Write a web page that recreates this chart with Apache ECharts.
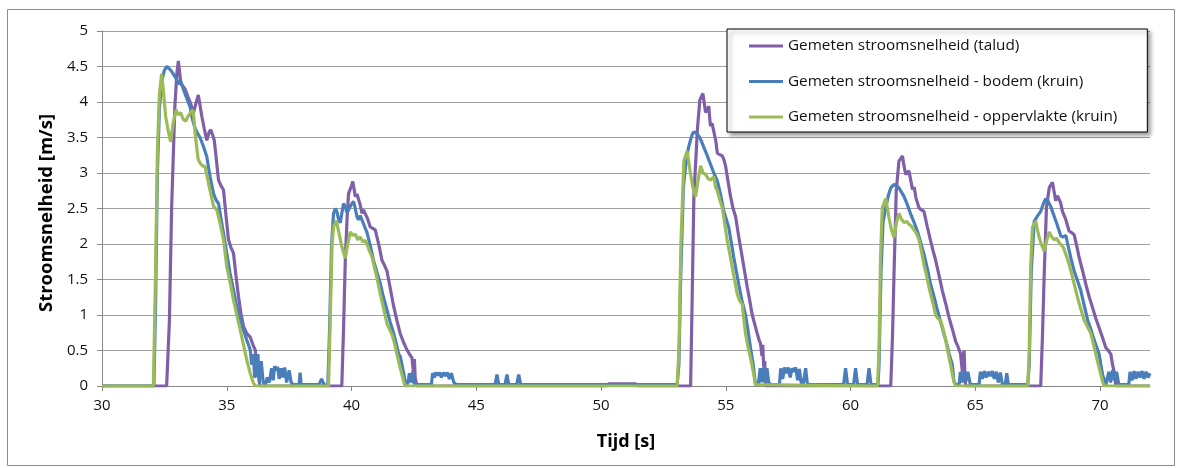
<!DOCTYPE html>
<html>
<head>
<meta charset="utf-8">
<title>Gemeten stroomsnelheid</title>
<script src="https://cdn.jsdelivr.net/npm/echarts@6/dist/echarts.min.js"></script>
<style>
  html, body { margin: 0; padding: 0; background: #fff; }
  #chart { width: 1179px; height: 468px; }
</style>
</head>
<body>
<div id="chart"></div>
<script>
// [tijd (s), snelheid (m/s)]
const talud = [
  [30, 0], [32.59, 0], [32.7, 0.9], [32.79, 2.5], [32.92, 3.94], [33.0, 4.4], [33.06, 4.58], [33.1, 4.45], [33.16, 4.26],
  [33.25, 4.22], [33.33, 4.18], [33.45, 4.07], [33.55, 3.98], [33.66, 3.84], [33.78, 4.0], [33.86, 4.1], [33.93, 3.95],
  [34.0, 3.8], [34.1, 3.62], [34.2, 3.46], [34.3, 3.58], [34.36, 3.61], [34.45, 3.52], [34.5, 3.46], [34.58, 3.2],
  [34.67, 2.9], [34.77, 2.82], [34.87, 2.76], [34.97, 2.4], [35.07, 2.06], [35.17, 1.95], [35.27, 1.87], [35.37, 1.55],
  [35.47, 1.26], [35.57, 1.02], [35.67, 0.84], [35.8, 0.74], [35.94, 0.69], [36.05, 0.58], [36.14, 0.51], [36.2, 0.3],
  [36.27, 0.18], [36.33, 0],
  [39.61, 0], [39.68, 0.8], [39.75, 1.77], [39.82, 2.35], [39.88, 2.71], [40.0, 2.82], [40.05, 2.88], [40.1, 2.78],
  [40.15, 2.67], [40.22, 2.7], [40.28, 2.72], [40.35, 2.55], [40.42, 2.43], [40.48, 2.48], [40.55, 2.5], [40.65, 2.35],
  [40.75, 2.24], [40.85, 2.22], [40.95, 2.2], [41.1, 1.98], [41.22, 1.77], [41.32, 1.7], [41.42, 1.62], [41.55, 1.38],
  [41.69, 1.12], [41.82, 0.92], [41.95, 0.74], [42.08, 0.62], [42.22, 0.51], [42.32, 0.45], [42.42, 0.4], [42.48, 0.2],
  [42.52, 0.38], [42.55, 0.12], [42.62, 0],
  [50.2, 0], [50.3, 0.03], [51.4, 0.03], [51.5, 0],
  [53.59, 0], [53.65, 1.2], [53.72, 2.67], [53.8, 3.2], [53.86, 3.61], [53.96, 4.03], [54.03, 4.08], [54.08, 4.12],
  [54.13, 4.0], [54.19, 3.85], [54.26, 3.9], [54.32, 3.94], [54.36, 3.75], [54.39, 3.66], [54.45, 3.7], [54.52, 3.68],
  [54.6, 3.45], [54.66, 3.28], [54.76, 3.26], [54.86, 3.24], [54.93, 3.18], [54.99, 3.1], [55.09, 2.88], [55.19, 2.67],
  [55.29, 2.5], [55.39, 2.39], [55.52, 2.1], [55.66, 1.81], [55.76, 1.6], [55.86, 1.39], [55.96, 1.2], [56.06, 1.0],
  [56.16, 0.87], [56.26, 0.74], [56.33, 0.65], [56.39, 0.6], [56.45, 0.42], [56.48, 0.58], [56.52, 0.26], [56.56, 0.35],
  [56.6, 0],
  [61.61, 0], [61.68, 0.7], [61.74, 1.57], [61.83, 2.75], [61.94, 3.17], [62.0, 3.2], [62.08, 3.24], [62.14, 3.1],
  [62.21, 2.98], [62.28, 3.0], [62.34, 3.03], [62.41, 2.9], [62.48, 2.77], [62.55, 2.8], [62.62, 2.65], [62.74, 2.51],
  [62.84, 2.48], [62.94, 2.46], [63.07, 2.25], [63.21, 2.04], [63.31, 1.9], [63.41, 1.77], [63.55, 1.55], [63.68, 1.34],
  [63.82, 1.15], [63.95, 0.96], [64.08, 0.8], [64.21, 0.63], [64.31, 0.55], [64.41, 0.45], [64.45, 0.3], [64.48, 0.2],
  [64.52, 0.45], [64.55, 0.5], [64.58, 0.2], [64.61, 0],
  [67.62, 0], [67.69, 0.7], [67.76, 1.57], [67.85, 2.51], [67.96, 2.79], [68.02, 2.83], [68.09, 2.87], [68.15, 2.75],
  [68.22, 2.61], [68.29, 2.68], [68.36, 2.7], [68.42, 2.58], [68.49, 2.46], [68.56, 2.48], [68.62, 2.35], [68.76, 2.18],
  [68.86, 2.16], [68.96, 2.13], [69.06, 1.98], [69.16, 1.81], [69.3, 1.62], [69.43, 1.43], [69.56, 1.26], [69.7, 1.1],
  [69.83, 0.95], [69.96, 0.82], [70.1, 0.68], [70.23, 0.54], [70.33, 0.5], [70.43, 0.45], [70.5, 0.3], [70.56, 0.2],
  [70.6, 0.1], [70.63, 0], [72, 0]
];

const bodem = [
  [30, 0], [32.08, 0], [32.15, 1.2], [32.22, 3.0], [32.3, 3.9], [32.4, 4.3], [32.5, 4.45], [32.6, 4.5], [32.66, 4.51],
  [32.75, 4.45], [32.85, 4.4], [33.0, 4.31], [33.1, 4.25], [33.15, 4.3], [33.27, 4.17], [33.4, 4.05], [33.53, 3.93],
  [33.63, 3.75], [33.73, 3.63], [33.83, 3.56], [33.93, 3.5], [34.06, 3.38], [34.2, 3.23], [34.33, 2.95], [34.47, 2.71],
  [34.57, 2.62], [34.67, 2.57], [34.77, 2.35], [34.87, 2.15], [35.0, 1.87], [35.13, 1.59], [35.27, 1.35], [35.4, 1.12],
  [35.53, 0.95], [35.67, 0.79], [35.8, 0.65], [35.94, 0.51], [36.0, 0.3], [36.06, 0.45], [36.12, 0.12], [36.2, 0.17],
  [36.25, 0.45], [36.3, 0.05], [36.38, 0.35], [36.46, 0.05], [36.55, 0.02], [36.62, 0.12], [36.7, 0.05], [36.8, 0.25],
  [36.86, 0.08], [36.92, 0.28], [36.98, 0.22], [37.04, 0.27], [37.1, 0.1], [37.18, 0.25], [37.25, 0.12], [37.32, 0.26],
  [37.4, 0.05], [37.5, 0.22], [37.58, 0.05], [37.66, 0.02], [37.9, 0.02], [37.94, 0.19], [37.98, 0.02], [38.7, 0.02],
  [38.8, 0.1], [38.9, 0.02],
  [39.05, 0], [39.12, 0.8], [39.2, 2.0], [39.28, 2.43], [39.35, 2.5], [39.41, 2.46], [39.48, 2.35], [39.55, 2.3],
  [39.62, 2.45], [39.68, 2.57], [39.75, 2.52], [39.82, 2.44], [39.88, 2.46], [39.98, 2.55], [40.08, 2.6], [40.15, 2.5],
  [40.22, 2.38], [40.28, 2.34], [40.35, 2.4], [40.42, 2.38], [40.52, 2.25], [40.62, 2.16], [40.75, 1.98], [40.88, 1.77],
  [41.02, 1.6], [41.15, 1.45], [41.28, 1.25], [41.42, 1.07], [41.55, 0.9], [41.69, 0.74], [41.79, 0.6], [41.89, 0.45],
  [41.95, 0.42], [42.02, 0.4], [42.08, 0.2], [42.15, 0.05], [42.25, 0.03], [42.32, 0.18], [42.38, 0.05], [42.45, 0.2],
  [42.5, 0.04], [42.6, 0.02], [43.2, 0.02], [43.25, 0.18], [43.32, 0.12], [43.38, 0.19], [43.45, 0.15], [43.52, 0.19],
  [43.6, 0.12], [43.68, 0.19], [43.76, 0.14], [43.84, 0.19], [43.92, 0.1], [44.0, 0.18], [44.1, 0.05], [44.2, 0.02],
  [45.75, 0.02], [45.83, 0.16], [45.9, 0.02], [46.15, 0.02], [46.23, 0.16], [46.3, 0.02], [46.62, 0.02], [46.7, 0.16],
  [46.78, 0.02], [53.05, 0.02],
  [53.12, 0.3], [53.19, 1.5], [53.3, 2.8], [53.39, 3.1], [53.5, 3.35], [53.59, 3.47], [53.66, 3.55], [53.72, 3.58],
  [53.82, 3.56], [53.92, 3.52], [54.02, 3.45], [54.12, 3.36], [54.25, 3.25], [54.39, 3.12], [54.52, 3.0], [54.66, 2.89],
  [54.8, 2.68], [54.92, 2.46], [55.02, 2.35], [55.12, 2.23], [55.22, 2.02], [55.32, 1.81], [55.42, 1.62], [55.52, 1.43],
  [55.65, 1.2], [55.79, 1.0], [55.89, 0.78], [55.99, 0.54], [56.05, 0.55], [56.1, 0.3], [56.19, 0.02], [56.3, 0.02],
  [56.38, 0.25], [56.44, 0.05], [56.5, 0.26], [56.56, 0.05], [56.65, 0.25], [56.72, 0.05], [56.8, 0.02], [57.15, 0.02],
  [57.2, 0.25], [57.28, 0.1], [57.35, 0.26], [57.42, 0.18], [57.5, 0.26], [57.58, 0.12], [57.65, 0.25], [57.72, 0.2],
  [57.8, 0.26], [57.88, 0.08], [57.95, 0.24], [58.02, 0.05], [58.1, 0.02], [58.2, 0.25], [58.27, 0.02], [59.72, 0.02],
  [59.8, 0.25], [59.88, 0.02], [60.12, 0.02], [60.2, 0.25], [60.28, 0.02], [60.66, 0.02], [60.74, 0.25], [60.82, 0.02],
  [61.1, 0.02],
  [61.14, 0.3], [61.22, 1.6], [61.3, 2.3], [61.41, 2.51], [61.51, 2.68], [61.61, 2.79], [61.74, 2.84], [61.84, 2.82],
  [61.94, 2.79], [62.04, 2.73], [62.14, 2.67], [62.28, 2.55], [62.41, 2.42], [62.55, 2.3], [62.68, 2.18], [62.81, 2.02],
  [62.94, 1.86], [63.08, 1.65], [63.21, 1.43], [63.35, 1.25], [63.48, 1.07], [63.61, 0.9], [63.74, 0.74], [63.85, 0.6],
  [63.95, 0.45], [64.02, 0.45], [64.08, 0.3], [64.14, 0.07], [64.21, 0.02], [64.35, 0.02], [64.4, 0.2], [64.47, 0.05],
  [64.55, 0.21], [64.62, 0.06], [64.7, 0.2], [64.8, 0.02], [65.15, 0.02], [65.2, 0.2], [65.28, 0.1], [65.36, 0.21],
  [65.44, 0.12], [65.52, 0.2], [65.6, 0.14], [65.68, 0.21], [65.76, 0.1], [65.84, 0.2], [65.92, 0.05], [66.0, 0.19],
  [66.08, 0.03], [66.2, 0.02], [66.26, 0.18], [66.32, 0.02], [67.1, 0.02],
  [67.16, 0.3], [67.24, 1.6], [67.36, 2.32], [67.5, 2.4], [67.62, 2.46], [67.72, 2.56], [67.82, 2.64], [67.92, 2.6],
  [68.02, 2.53], [68.1, 2.45], [68.16, 2.39], [68.3, 2.25], [68.43, 2.11], [68.53, 2.1], [68.63, 2.12], [68.7, 2.0],
  [68.83, 1.8], [68.96, 1.62], [69.1, 1.48], [69.23, 1.34], [69.36, 1.14], [69.5, 0.93], [69.63, 0.8], [69.76, 0.65],
  [69.86, 0.55], [69.96, 0.45], [70.03, 0.3], [70.1, 0.16], [70.23, 0.02], [70.35, 0.2], [70.42, 0.05], [70.5, 0.22],
  [70.58, 0.08], [70.66, 0.2], [70.75, 0.02], [71.15, 0.02], [71.2, 0.2], [71.28, 0.08], [71.36, 0.21], [71.44, 0.1],
  [71.52, 0.2], [71.6, 0.12], [71.68, 0.21], [71.76, 0.1], [71.84, 0.2], [71.92, 0.12], [72, 0.18]
];

const oppervlakte = [
  [30, 0], [32.06, 0], [32.14, 1.5], [32.22, 3.3], [32.3, 4.1], [32.39, 4.4], [32.45, 4.2], [32.55, 3.8], [32.65, 3.6],
  [32.75, 3.44], [32.85, 3.7], [32.97, 3.89], [33.05, 3.82], [33.15, 3.85], [33.25, 3.76], [33.35, 3.73], [33.45, 3.8],
  [33.55, 3.85], [33.65, 3.89], [33.75, 3.5], [33.85, 3.2], [33.93, 3.14], [34.03, 3.1], [34.13, 3.09], [34.3, 2.8],
  [34.47, 2.53], [34.6, 2.48], [34.74, 2.28], [34.87, 2.06], [35.0, 1.68], [35.14, 1.45], [35.27, 1.21], [35.4, 1.0],
  [35.54, 0.79], [35.67, 0.58], [35.8, 0.37], [35.94, 0.18], [36.07, 0.04], [36.15, 0],
  [39.08, 0], [39.15, 1.0], [39.22, 2.0], [39.28, 2.24], [39.39, 2.33], [39.5, 2.15], [39.62, 1.95], [39.75, 1.8],
  [39.85, 2.0], [39.95, 2.17], [40.05, 2.12], [40.15, 2.14], [40.25, 2.06], [40.35, 2.1], [40.45, 2.03], [40.55, 2.05],
  [40.62, 2.0], [40.72, 1.9], [40.82, 1.82], [41.0, 1.55], [41.15, 1.3], [41.28, 1.1], [41.42, 0.88], [41.52, 0.8],
  [41.62, 0.73], [41.72, 0.6], [41.82, 0.45], [41.92, 0.3], [42.02, 0.16], [42.1, 0.05], [42.15, 0],
  [53.05, 0], [53.12, 0.5], [53.2, 2.0], [53.32, 3.17], [53.45, 3.31], [53.52, 3.15], [53.58, 3.0], [53.68, 2.8],
  [53.79, 2.67], [53.89, 2.9], [53.99, 3.1], [54.09, 3.0], [54.19, 2.98], [54.29, 2.92], [54.39, 2.9], [54.52, 2.95],
  [54.59, 2.8], [54.66, 2.75], [54.76, 2.62], [54.86, 2.51], [54.96, 2.28], [55.06, 2.04], [55.16, 1.86], [55.26, 1.67],
  [55.36, 1.48], [55.46, 1.29], [55.56, 1.2], [55.66, 1.15], [55.72, 0.95], [55.79, 0.74], [55.89, 0.55], [55.99, 0.4],
  [56.1, 0.2], [56.19, 0.02], [56.25, 0],
  [61.08, 0], [61.14, 0.5], [61.2, 1.8], [61.27, 2.51], [61.41, 2.64], [61.54, 2.37], [61.64, 2.2], [61.74, 2.09],
  [61.84, 2.3], [61.94, 2.43], [62.04, 2.35], [62.14, 2.3], [62.24, 2.32], [62.34, 2.28], [62.44, 2.25], [62.54, 2.2],
  [62.64, 2.15], [62.74, 2.06], [62.84, 1.9], [62.94, 1.71], [63.05, 1.55], [63.15, 1.38], [63.28, 1.2], [63.41, 1.0],
  [63.51, 0.95], [63.61, 0.92], [63.71, 0.8], [63.81, 0.65], [63.88, 0.52], [63.95, 0.4], [64.02, 0.28], [64.08, 0.16],
  [64.15, 0.05], [64.21, 0],
  [67.1, 0], [67.16, 0.5], [67.22, 1.7], [67.29, 2.24], [67.42, 2.32], [67.49, 2.2], [67.56, 2.09], [67.66, 1.98],
  [67.76, 1.9], [67.86, 2.05], [67.96, 2.17], [68.06, 2.1], [68.16, 2.06], [68.26, 2.08], [68.36, 2.02], [68.43, 2.0],
  [68.53, 1.95], [68.63, 1.85], [68.73, 1.75], [68.83, 1.62], [68.96, 1.44], [69.1, 1.24], [69.23, 1.08], [69.36, 0.93],
  [69.5, 0.83], [69.63, 0.74], [69.73, 0.6], [69.83, 0.45], [69.93, 0.3], [70.03, 0.16], [70.1, 0.06], [70.16, 0],
  [72, 0]
];

const seriesNames = [
  "Gemeten stroomsnelheid (talud)",
  "Gemeten stroomsnelheid - bodem (kruin)",
  "Gemeten stroomsnelheid - oppervlakte (kruin)"
];
const seriesColors = ["#7f60a8", "#4a7ebb", "#9bbb59"];
const xTicks = [30, 35, 40, 45, 50, 55, 60, 65, 70];

const font = "Open Sans";
const chart = echarts.init(document.getElementById("chart"));

function lineSeries(i, data) {
  return {
    name: seriesNames[i],
    type: "line",
    data: data,
    showSymbol: false,
    symbol: "none",
    smooth: false,
    animation: false,
    lineStyle: { color: seriesColors[i], width: 3.2 },
    itemStyle: { color: seriesColors[i] }
  };
}

chart.setOption({
  animation: false,
  textStyle: { fontFamily: font },
  grid: { left: 102, right: 29, top: 31, bottom: 82 },
  graphic: [{
    type: "rect",
    z: -10,
    shape: { x: 7.5, y: 9.5, width: 1167, height: 456 },
    style: { fill: "none", stroke: "#8c8c8c", lineWidth: 1 }
  }],
  legend: {
    orient: "vertical",
    left: 727,
    top: 29,
    data: seriesNames,
    icon: "rect",
    itemWidth: 34,
    itemHeight: 3,
    itemGap: 17.5,
    padding: [8, 30, 6, 22],
    backgroundColor: "#fff",
    borderColor: "#000",
    borderWidth: 1,
    borderRadius: 0,
    shadowColor: "rgba(0,0,0,0.4)",
    shadowBlur: 4,
    shadowOffsetX: 3,
    shadowOffsetY: 3,
    textStyle: { fontFamily: font, fontSize: 15.3, color: "#111", lineHeight: 18 }
  },
  xAxis: {
    type: "value",
    min: 30,
    max: 72,
    interval: 5,
    name: "Tijd [s]",
    nameLocation: "middle",
    nameGap: 47,
    nameTextStyle: { fontFamily: font, fontSize: 18, fontWeight: "bold", color: "#000" },
    axisLine: { show: true, lineStyle: { color: "#868686", width: 1 } },
    axisTick: { show: true, length: 5, customValues: xTicks, lineStyle: { color: "#868686" } },
    axisLabel: { customValues: xTicks, margin: 12, fontFamily: font, fontSize: 15, color: "#111" },
    splitLine: { show: false }
  },
  yAxis: {
    type: "value",
    min: 0,
    max: 5,
    interval: 0.5,
    name: "Stroomsnelheid [m/s]",
    nameLocation: "middle",
    nameGap: 45,
    nameTextStyle: { fontFamily: font, fontSize: 18.5, fontWeight: "bold", color: "#000", padding: [0, 9, 0, 0] },
    axisLine: { show: true, lineStyle: { color: "#868686", width: 1 } },
    axisTick: { show: true, length: 5, lineStyle: { color: "#868686" } },
    axisLabel: { margin: 14, fontFamily: font, fontSize: 15, color: "#111" },
    splitLine: { show: true, lineStyle: { color: "#a0a0a0", width: 1 } }
  },
  series: [
    lineSeries(0, talud),
    lineSeries(1, bodem),
    lineSeries(2, oppervlakte)
  ]
});
</script>
</body>
</html>
